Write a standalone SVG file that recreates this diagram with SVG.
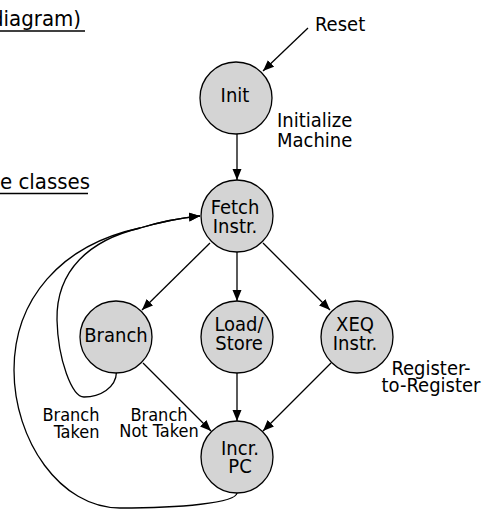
<svg xmlns="http://www.w3.org/2000/svg" width="488" height="510" viewBox="0 0 488 510">
<defs>
<marker id="ah" markerUnits="userSpaceOnUse" markerWidth="12" markerHeight="10" refX="11" refY="5" orient="auto">
<path d="M0,0.5 L11,5 L0,9.5 Z" fill="#000"/>
</marker>
<style>
text{font-family:"DejaVu Sans Condensed","DejaVu Sans",sans-serif;fill:#000}
.n circle{fill:#d4d4d4;stroke:#000;stroke-width:1.3}
.n text{font-size:20px;text-anchor:middle}
.lbl{font-size:20px}
.el{font-size:18px}
.hd{font-size:22px}
.c{fill:none;stroke:#000;stroke-width:1.3}
.a{marker-end:url(#ah)}
</style>
</defs>
<rect width="488" height="510" fill="#fff"/>
<g id="headers">
<text class="hd" x="-9" y="26">diagram)</text>
<line x1="0" y1="31" x2="85" y2="31" stroke="#000" stroke-width="1.3"/>
<text class="hd" x="0" y="189">e classes</text>
<line x1="0" y1="193.5" x2="88" y2="193.5" stroke="#000" stroke-width="1.3"/>
</g>
<g id="connectors">
<path class="c a" d="M308,28 L263,71"/>
<path class="c a" d="M237,134 L237,180"/>
<path class="c a" d="M210,243 L142,310"/>
<path class="c a" d="M237,252 L237,301"/>
<path class="c a" d="M263,243 L330,310"/>
<path class="c a" d="M143,363 L211,431"/>
<path class="c a" d="M237,373 L237,421"/>
<path class="c a" d="M331,363 L263,431"/>
<path class="c a" d="M116.5,372 C116,388 100,397 84,397 C72,397 58,360 57,320 C56,270 90,240 140,228 C160,222 180,218 200,216"/>
<path class="c a" d="M237,493 C236,503 180,508 120,508 C60,508 14,440 14,370 C14,300 60,245 140,228 C160,222 180,218 200,216"/>
</g>
<g id="init" class="n"><circle cx="236" cy="98" r="36"/><text x="235" y="102">Init</text></g>
<g id="fetch" class="n"><circle cx="237" cy="216" r="36"/><text x="235" y="214">Fetch</text><text x="235" y="233">Instr.</text></g>
<g id="branch" class="n"><circle cx="116" cy="337" r="36"/><text x="116" y="342">Branch</text></g>
<g id="loadstore" class="n"><circle cx="237" cy="337" r="36"/><text x="239" y="331">Load/</text><text x="239" y="350">Store</text></g>
<g id="xeq" class="n"><circle cx="357" cy="337" r="36"/><text x="355" y="331">XEQ</text><text x="355" y="350">Instr.</text></g>
<g id="incrpc" class="n"><circle cx="237" cy="457" r="36"/><text x="240" y="455">Incr.</text><text x="240" y="473">PC</text></g>
<g id="labels">
<text class="lbl" x="315" y="31">Reset</text>
<text class="lbl" x="277" y="127">Initialize</text>
<text class="lbl" x="277" y="147">Machine</text>
<text class="lbl" x="431" y="375" text-anchor="middle">Register-</text>
<text class="lbl" x="431" y="392" text-anchor="middle">to-Register</text>
<text class="el" x="99.5" y="421" text-anchor="end">Branch</text>
<text class="el" x="99.5" y="438" text-anchor="end">Taken</text>
<text class="el" x="159" y="421" text-anchor="middle">Branch</text>
<text class="el" x="159" y="437" text-anchor="middle">Not Taken</text>
</g>
</svg>
